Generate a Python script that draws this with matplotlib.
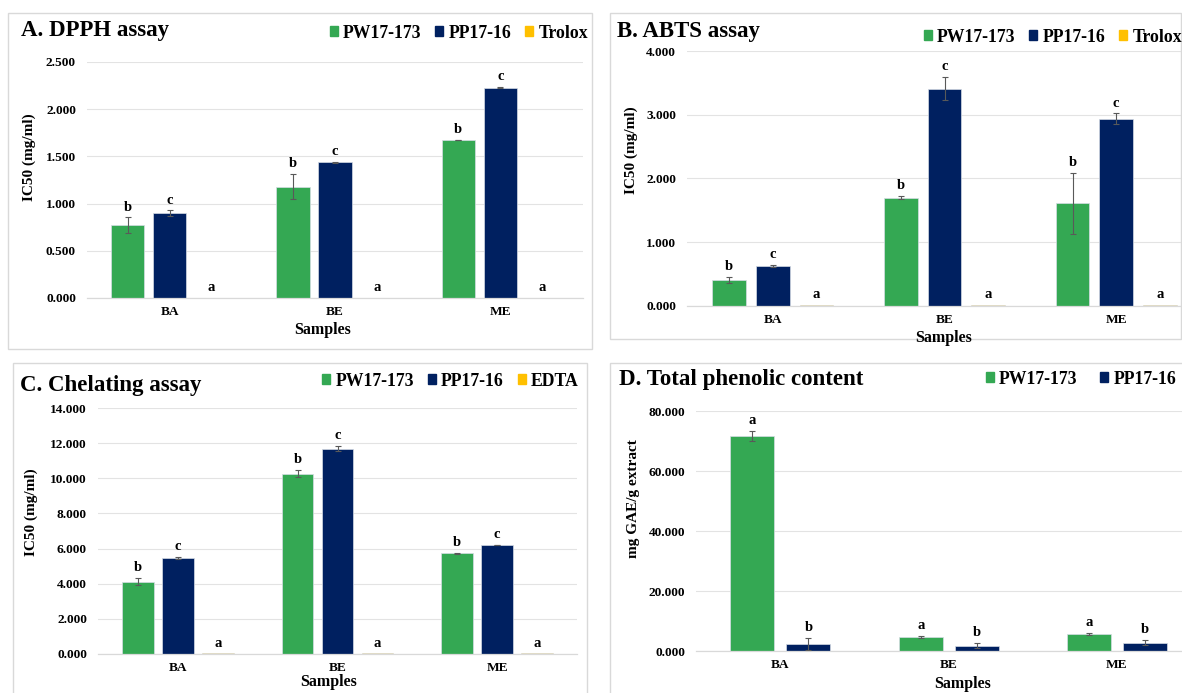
import matplotlib.pyplot as plt
from matplotlib.patches import Patch, Rectangle
from matplotlib.ticker import FuncFormatter

plt.rcParams['font.family'] = ['Liberation Serif', 'DejaVu Serif']
plt.rcParams['font.weight'] = 'bold'

W, H = 1182, 693

samples = ['BA', 'BE', 'ME']
GREEN, NAVY, GOLD = '#34a853', '#002060', '#ffc000'

# A. DPPH assay (IC50 mg/ml)
dpph_pw = [0.773, 1.179, 1.674]
dpph_pw_err = [0.08, 0.13, 0.005]
dpph_pp = [0.897, 1.44, 2.228]
dpph_pp_err = [0.03, 0.005, 0.008]
dpph_trolox = [0.005, 0.005, 0.005]

# B. ABTS assay
abts_pw = [0.408, 1.699, 1.61]
abts_pw_err = [0.05, 0.02, 0.48]
abts_pp = [0.627, 3.41, 2.94]
abts_pp_err = [0.01, 0.18, 0.08]
abts_trolox = [0.016, 0.016, 0.016]

# C. Chelating assay
chel_pw = [4.12, 10.26, 5.73]
chel_pw_err = [0.19, 0.2, 0.03]
chel_pp = [5.45, 11.68, 6.2]
chel_pp_err = [0.05, 0.15, 0.02]
chel_edta = [0.03, 0.03, 0.03]

# D. Total phenolic content (mg GAE/g extract)
tpc_pw = [71.7, 4.8, 5.7]
tpc_pw_err = [1.6, 0.3, 0.3]
tpc_pp = [2.3, 1.8, 2.8]
tpc_pp_err = [2.1, 0.8, 0.8]


def fx(x):
    return x / W


def fy(y):
    return 1 - y / H


fig = plt.figure(figsize=(W / 100, H / 100), dpi=100)


def box(l, t, r, b):
    fig.add_artist(Rectangle((fx(l), fy(b)), (r - l) / W, (b - t) / H,
                             transform=fig.transFigure, fill=False,
                             ec='#d9d9d9', lw=1.0))


def panel(rect, series, ymax, step, width, offsets, title, title_xy,
          ylabel, ylabel_xy, xlabel_xy, leg_right, leg_cy, colspace):
    l, t, r, b = rect
    ax = fig.add_axes([fx(l), fy(b), (r - l) / W, (b - t) / H])
    for (vals, errs, color, name, letter), off in zip(series, offsets):
        xs = [i + off for i in range(len(samples))]
        ax.bar(xs, vals, width=width, color=color, edgecolor='#d6dce5',
               linewidth=0.5, label=name, zorder=2)
        tops = list(vals)
        if errs is not None:
            ax.errorbar(xs, vals, yerr=errs, fmt='none', ecolor='#595959',
                        elinewidth=0.8, capsize=2.5, capthick=0.8, zorder=3)
            tops = [v + e for v, e in zip(vals, errs)]
        for x, top in zip(xs, tops):
            ax.annotate(letter, (x, top), xytext=(0, 5),
                        textcoords='offset points', ha='center',
                        va='baseline', fontsize=10.5, fontweight='bold')
    ax.set_xlim(-0.5, len(samples) - 0.5)
    ax.set_ylim(0, ymax)
    ax.set_yticks([step * k for k in range(int(round(ymax / step)) + 1)])
    ax.yaxis.set_major_formatter(FuncFormatter(lambda v, p: f'{v:.3f}'))
    ax.set_xticks(range(len(samples)))
    ax.set_xticklabels(samples)
    ax.tick_params(length=0, labelsize=9.6)
    ax.tick_params(axis='y', pad=8)
    ax.tick_params(axis='x', pad=6)
    ax.yaxis.grid(True, color='#e3e3e3', lw=0.8)
    ax.set_axisbelow(True)
    for s in ['top', 'right', 'left']:
        ax.spines[s].set_visible(False)
    ax.spines['bottom'].set_color('#d9d9d9')
    ax.spines['bottom'].set_linewidth(0.9)

    fig.text(fx(title_xy[0]), fy(title_xy[1]), title, fontsize=16.5,
             fontweight='bold', va='baseline', ha='left')
    fig.text(fx(ylabel_xy[0]), fy(ylabel_xy[1]), ylabel, rotation=90,
             fontsize=11, fontweight='bold', ha='center', va='center')
    fig.text(fx(xlabel_xy[0]), fy(xlabel_xy[1]), 'Samples', fontsize=11.5,
             fontweight='bold', ha='center', va='center')
    handles = [Patch(color=s[2], label=s[3]) for s in series]
    fig.legend(handles=handles, loc='center right',
               bbox_to_anchor=(fx(leg_right), fy(leg_cy)), ncol=len(handles),
               frameon=False, fontsize=12.8, handlelength=0.45,
               handleheight=0.45, handletextpad=0.28, columnspacing=colspace,
               borderpad=0, borderaxespad=0)
    return ax


box(8, 13, 592, 349)
box(610, 13, 1181, 339)
box(13, 363, 587, 720)
box(610, 363, 1200, 720)

panel((87, 62, 583, 298),
      [(dpph_pw, dpph_pw_err, GREEN, 'PW17-173', 'b'),
       (dpph_pp, dpph_pp_err, NAVY, 'PP17-16', 'c'),
       (dpph_trolox, None, GOLD, 'Trolox', 'a')],
      2.5, 0.5, 0.2, [-0.254, 0, 0.254],
      'A. DPPH assay', (21, 36), 'IC50 (mg/ml)', (29, 157), (323, 330),
      588, 33, 0.8)

panel((687, 51, 1202, 306),
      [(abts_pw, abts_pw_err, GREEN, 'PW17-173', 'b'),
       (abts_pp, abts_pp_err, NAVY, 'PP17-16', 'c'),
       (abts_trolox, None, GOLD, 'Trolox', 'a')],
      4.0, 1.0, 0.197, [-0.254, 0, 0.254],
      'B. ABTS assay', (617, 37), 'IC50 (mg/ml)', (631, 150), (944, 338),
      1182, 37, 0.8)

panel((98, 408, 577, 654),
      [(chel_pw, chel_pw_err, GREEN, 'PW17-173', 'b'),
       (chel_pp, chel_pp_err, NAVY, 'PP17-16', 'c'),
       (chel_edta, None, GOLD, 'EDTA', 'a')],
      14.0, 2.0, 0.198, [-0.25, 0, 0.25],
      'C. Chelating assay', (20, 391), 'IC50 (mg/ml)', (31, 512), (329, 682),
      579, 381, 0.8)

panel((696, 411, 1201, 651),
      [(tpc_pw, tpc_pw_err, GREEN, 'PW17-173', 'a'),
       (tpc_pp, tpc_pp_err, NAVY, 'PP17-16', 'b')],
      80.0, 20.0, 0.262, [-0.165, 0.168],
      'D. Total phenolic content', (619, 385), 'mg GAE/g extract', (634, 499),
      (963, 684), 1176, 379, 1.3)

fig.savefig('out.png', dpi=100)
